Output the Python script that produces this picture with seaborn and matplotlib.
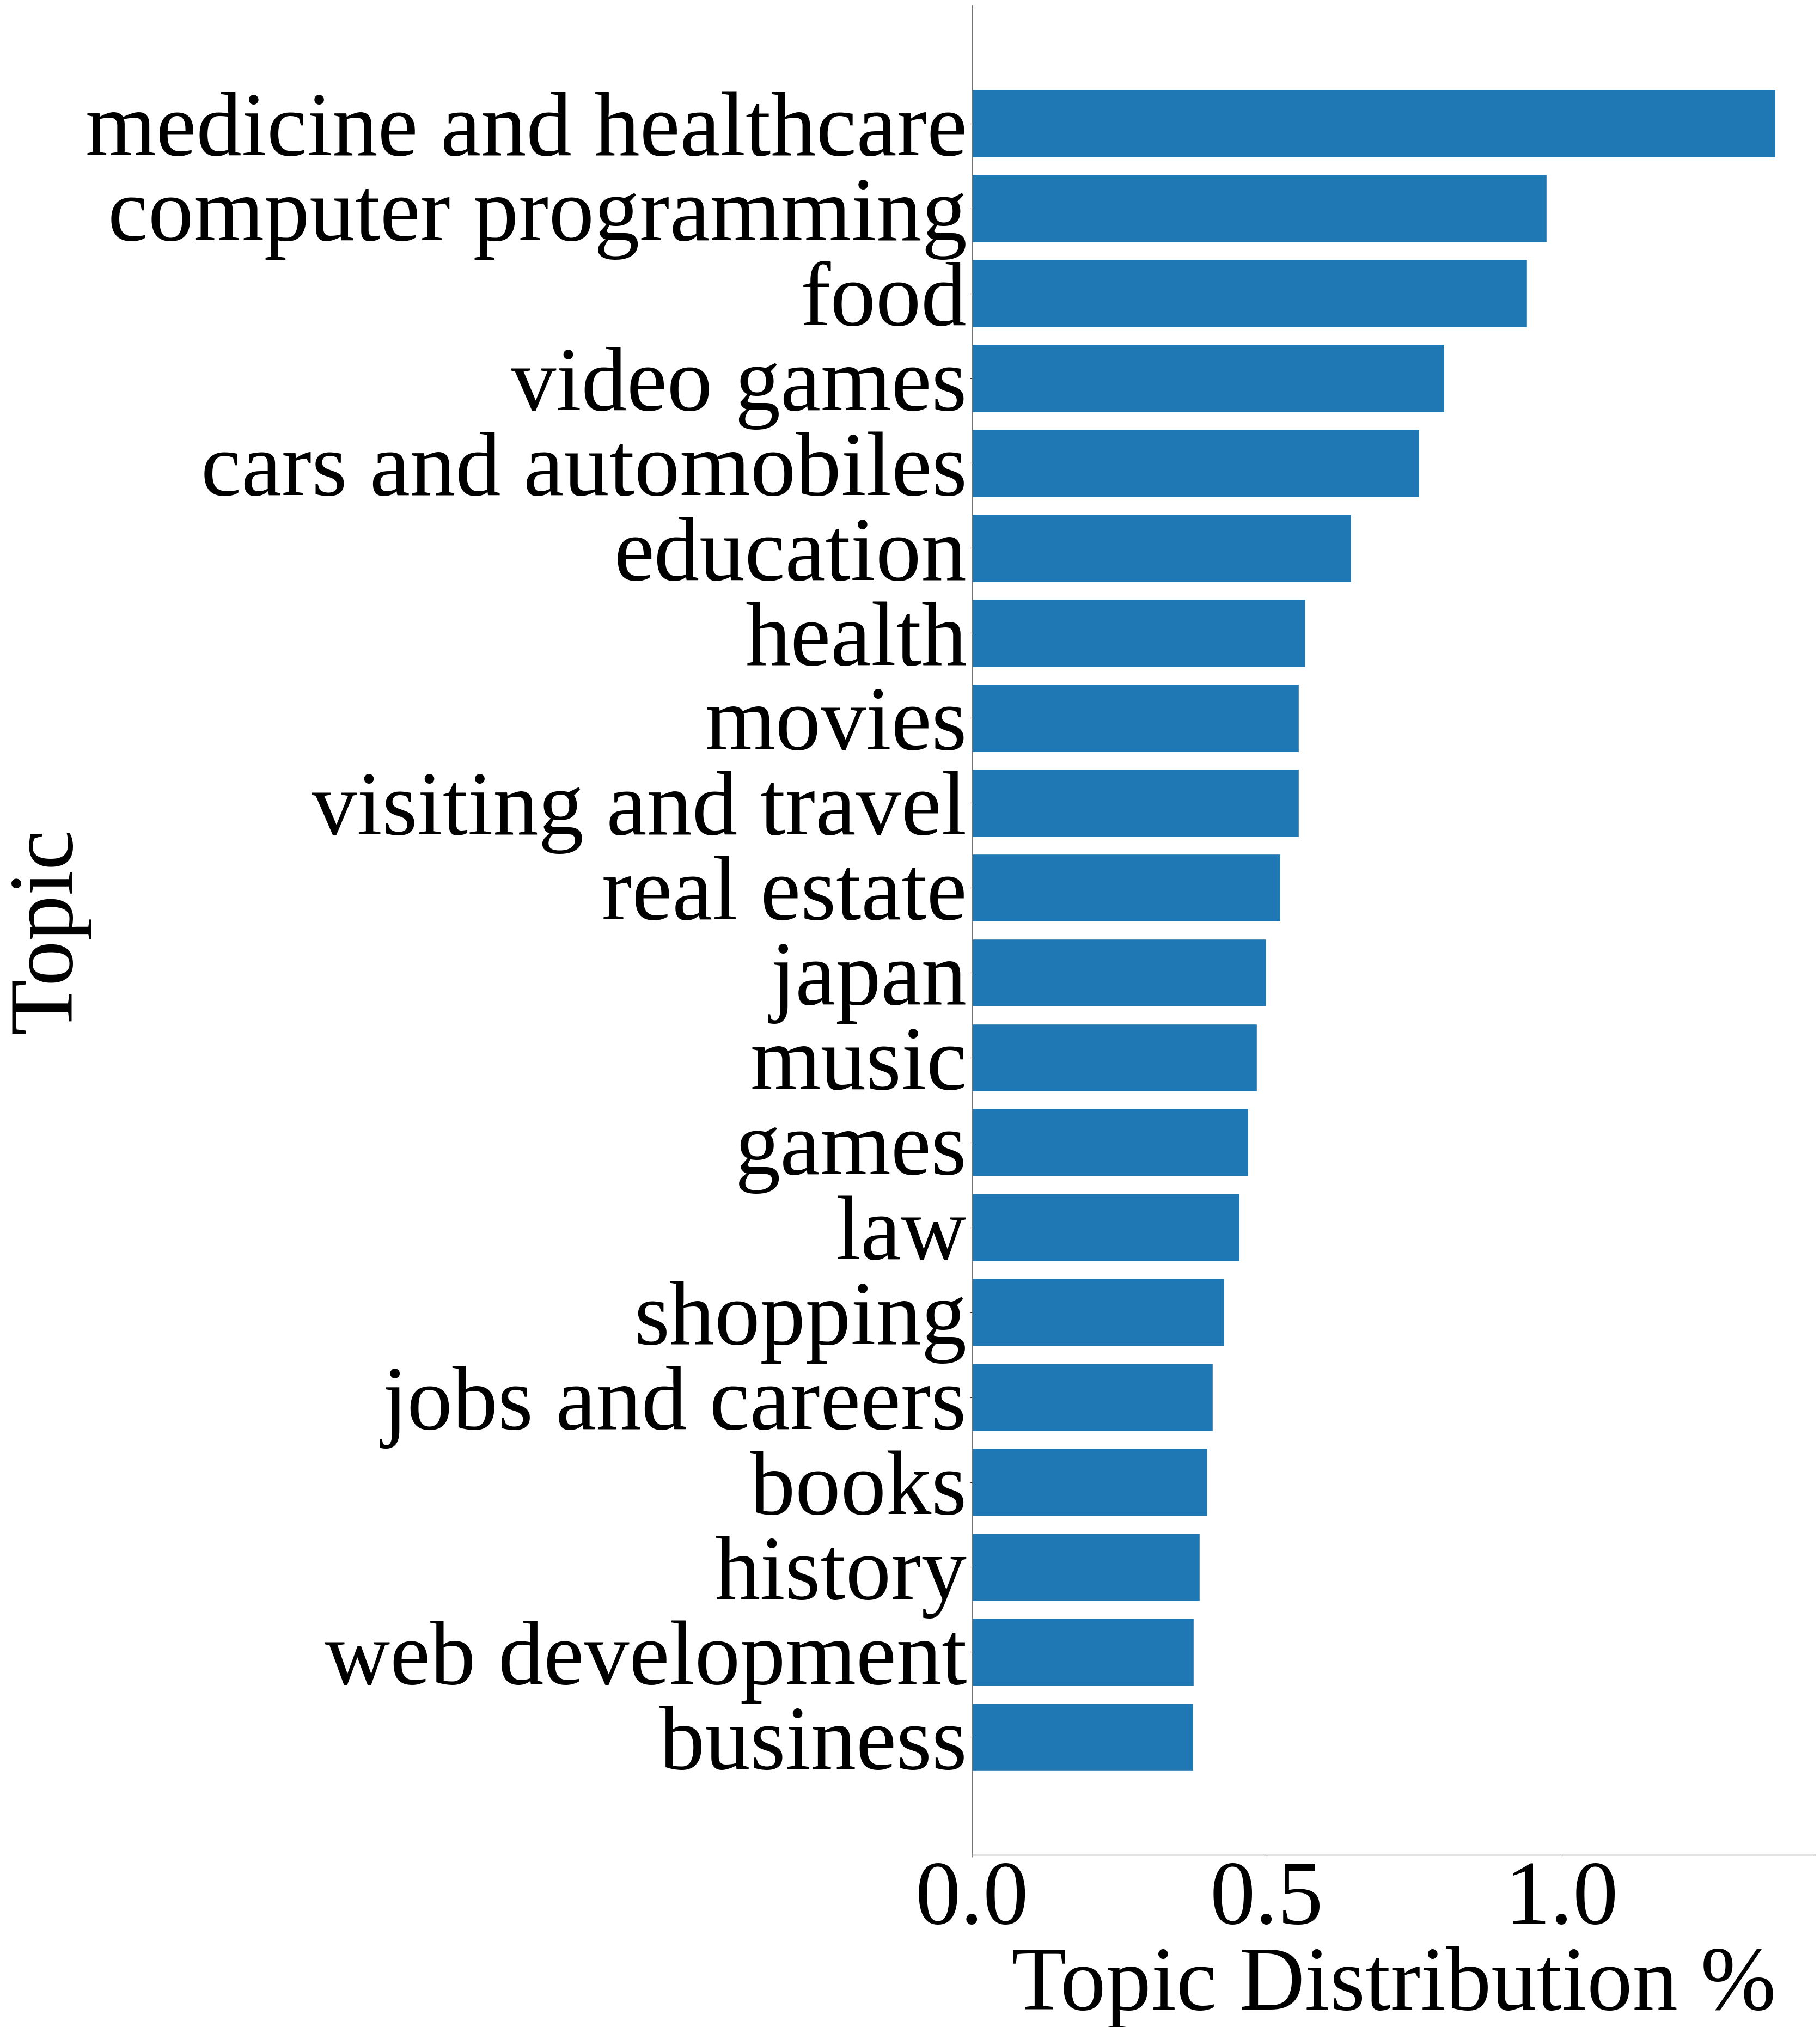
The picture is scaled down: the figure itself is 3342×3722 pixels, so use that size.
import pandas as pd
from matplotlib import pyplot as plt
import seaborn as sns

topics = ['medicine and healthcare', 'computer programming', 'food', 'video games',
          'cars and automobiles', 'education', 'health', 'movies',
          'visiting and travel', 'real estate', 'japan', 'music', 'games', 'law',
          'shopping', 'jobs and careers', 'books', 'history', 'web development',
          'business']
shares = [1.362, 0.974, 0.941, 0.801, 0.758, 0.643, 0.565, 0.554, 0.554, 0.523,
          0.499, 0.483, 0.468, 0.454, 0.428, 0.408, 0.399, 0.386, 0.376, 0.375]
xticks = [0.0, 0.5, 1.0]

df = pd.DataFrame({'topic': topics, 'share': shares})

sns.set_style('white')
plt.rcParams['font.family'] = ['Liberation Serif', 'DejaVu Serif']
plt.rcParams['text.color'] = 'black'
plt.rcParams['axes.labelcolor'] = 'black'
fs = 120

fig = plt.figure(figsize=(33.42, 37.22), dpi=100)
ax = fig.add_axes([0.534, 0.0849, 0.9976 - 0.534, 0.9973 - 0.0849])
sns.barplot(data=df, x='share', y='topic', orient='h', color='#1f77b4',
            saturation=1, width=0.8, ax=ax)

ax.set_ylim(len(topics) - 1 + 1.39, -1.39)
ax.set_xlim(0, max(shares) * 1.05)
ax.set_xticks(xticks)
ax.set_xticklabels([f'{t:.1f}' for t in xticks])
ax.tick_params(axis='x', labelsize=fs, length=3, width=0.8, color='0.5',
               labelcolor='black', bottom=True)
ax.tick_params(axis='y', labelsize=fs, length=3, width=0.8, color='0.2',
               labelcolor='black', left=True)
ax.set_xlabel('Topic Distribution %', fontsize=fs, color='black')
ax.set_ylabel('Topic', fontsize=fs, color='black')
ax.yaxis.set_label_coords(-1.045, 0.5)
for side in ['top', 'right']:
    ax.spines[side].set_visible(False)
for side in ['left', 'bottom']:
    ax.spines[side].set_color('0.45')
    ax.spines[side].set_linewidth(1.0)

plt.savefig('out.png', dpi=100)
